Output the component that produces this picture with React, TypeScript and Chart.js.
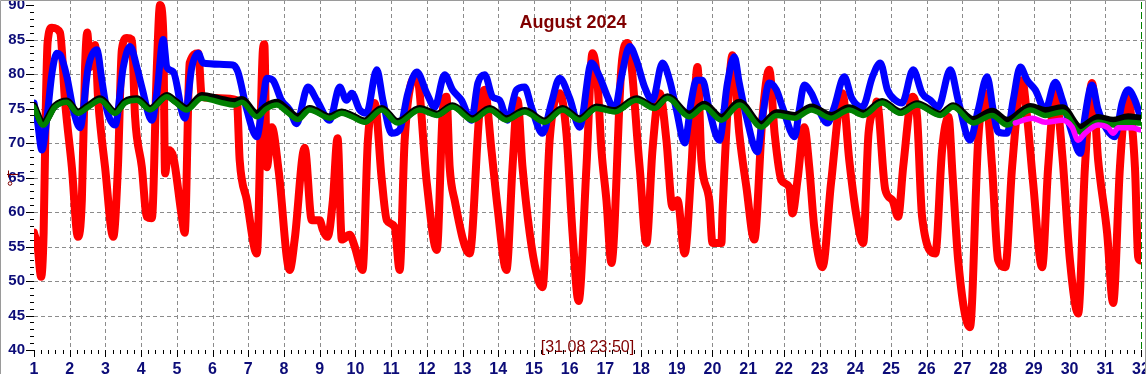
import React, { useEffect, useRef } from 'react';
import { Chart, registerables } from 'chart.js';

Chart.register(...registerables);

// ---------- data (day of month, value) ----------
const redSeries: [number, number][] = [
  [1.0, 57], [1.1, 55], [1.2, 50.6], [1.27, 57], [1.33, 75], [1.38, 84.5], [1.5, 86.7], [1.73, 86],
  [1.87, 76], [2.06, 66.5], [2.23, 56.4], [2.34, 61.7], [2.43, 81], [2.49, 86], [2.57, 81], [2.71, 84.2],
  [2.8, 76], [2.99, 66.5], [3.22, 56.4], [3.35, 66.5], [3.46, 83.5], [3.6, 85.2], [3.74, 85], [3.83, 73.8],
  [4.02, 66.5], [4.16, 59.3], [4.3, 59.1], [4.44, 81], [4.53, 90], [4.62, 86], [4.67, 65.6], [4.76, 69],
  [4.9, 68], [5.14, 59.3], [5.22, 57], [5.36, 81.6], [5.6, 83], [5.7, 76.7], [6.2, 76.5], [6.68, 76.2],
  [6.76, 67.5], [6.96, 61.7], [7.24, 54], [7.41, 83.5], [7.45, 84.3], [7.52, 66.5], [7.66, 72.3], [7.85, 66],
  [8.16, 51.6], [8.3, 56], [8.58, 69.3], [8.78, 58.8], [9.0, 58.8], [9.09, 57.4], [9.22, 56.4], [9.37, 61.7],
  [9.5, 70.7], [9.62, 56], [9.84, 56.7], [9.98, 55], [10.2, 51.6], [10.35, 70.4], [10.54, 75.8], [10.74, 64.6],
  [10.88, 58.8], [11.1, 57.8], [11.24, 51.6], [11.38, 70.4], [11.72, 79.6], [12.0, 64.2], [12.28, 54.5], [12.45, 74.8],
  [12.55, 76.7], [12.64, 66.5], [12.78, 61.7], [13.2, 54], [13.48, 74.8], [13.62, 77.7], [13.81, 69], [13.98, 60.7],
  [14.23, 51.6], [14.4, 66.5], [14.54, 76.2], [14.68, 66.5], [14.88, 57], [15.07, 51.2], [15.24, 49.1], [15.44, 70.4],
  [15.72, 77.2], [15.91, 71.4], [16.08, 57], [16.25, 47.1], [16.47, 66.5], [16.64, 83], [16.78, 78.7], [16.89, 69],
  [17.03, 61.7], [17.17, 52.6], [17.45, 81], [17.62, 84.5], [17.96, 66.5], [18.15, 55.5], [18.32, 69], [18.52, 77.2],
  [18.71, 70.4], [18.88, 60.7], [19.02, 61.7], [19.22, 54], [19.41, 66.5], [19.58, 81], [19.69, 67.5], [19.91, 61.7],
  [20.0, 55.5], [20.25, 55.5], [20.28, 59.8], [20.47, 78.7], [20.56, 82.7], [20.75, 71.4], [20.95, 63.6], [21.17, 56],
  [21.4, 73.8], [21.59, 80.6], [21.74, 71.4], [21.93, 64.6], [22.15, 63.6], [22.24, 59.8], [22.38, 64.6], [22.57, 72.3],
  [22.71, 66.5], [22.85, 57.8], [23.08, 52], [23.32, 64.2], [23.64, 77.2], [23.83, 67.5], [24.03, 59.5], [24.22, 55.5],
  [24.37, 71.4], [24.56, 75.2], [24.6, 76], [24.84, 63.2], [25.04, 61.7], [25.2, 59.3], [25.34, 66.5], [25.6, 76.7],
  [25.73, 73.8], [25.87, 59.3], [26.24, 54], [26.43, 69], [26.61, 73.8], [26.72, 65.6], [26.88, 53], [27.21, 43.3],
  [27.44, 70.4], [27.64, 77.2], [27.83, 66.5], [28.0, 53], [28.2, 52], [28.39, 66.5], [28.67, 79.1], [28.81, 73.8],
  [28.98, 64.2], [29.23, 52], [29.4, 66.5], [29.6, 77.2], [29.8, 68], [30.01, 53], [30.24, 45.3], [30.43, 66.5],
  [30.63, 78.7], [30.8, 67.5], [31.05, 57], [31.22, 46.8], [31.41, 66.5], [31.6, 76.7], [31.83, 66.5], [31.92, 53.5],
  [31.97, 53],
];

const blueSeries: [number, number][] = [
  [1.0, 75.8], [1.1, 73], [1.22, 69], [1.36, 73.5], [1.5, 80], [1.64, 83], [1.73, 82.8], [1.92, 79.6],
  [2.1, 74.8], [2.29, 72.2], [2.52, 81], [2.76, 83.5], [2.9, 79.1], [3.04, 74.8], [3.27, 72.6], [3.5, 81],
  [3.69, 84], [3.88, 81], [4.02, 78.1], [4.3, 73.3], [4.44, 77.2], [4.62, 85], [4.72, 81], [4.9, 80.3],
  [5.22, 73.6], [5.42, 81], [5.6, 83], [5.73, 81.6], [6.57, 81.3], [6.71, 80.3], [6.96, 74.8], [7.24, 70.9],
  [7.41, 76.2], [7.52, 79.4], [7.69, 79.1], [7.93, 76.2], [8.16, 74.8], [8.35, 72.8], [8.67, 78.1], [8.92, 76.2],
  [9.28, 73.3], [9.56, 78.1], [9.75, 76.2], [9.9, 77.2], [10.12, 74.8], [10.31, 74.3], [10.6, 80.6], [10.77, 76.2],
  [11.02, 71.4], [11.24, 71.9], [11.47, 77.2], [11.72, 80.3], [12.0, 77.2], [12.22, 75.2], [12.5, 79.9], [12.72, 77.7],
  [12.97, 76.2], [13.25, 73.3], [13.43, 78.7], [13.62, 79.9], [13.84, 76.7], [14.04, 76.2], [14.26, 73.3], [14.51, 77.7],
  [14.74, 78.1], [14.93, 75.2], [15.24, 71.4], [15.49, 75.8], [15.72, 79.4], [16.0, 76.5], [16.28, 72.3], [16.61, 81.6],
  [16.84, 79.6], [17.06, 76.7], [17.26, 74.8], [17.45, 79.6], [17.68, 84], [17.87, 82], [18.1, 78.1], [18.32, 76.2],
  [18.6, 81.6], [18.8, 79.1], [18.99, 74.8], [19.22, 70], [19.41, 76.2], [19.55, 79.1], [19.72, 79.1], [19.91, 74.8],
  [20.19, 70.4], [20.42, 78.7], [20.61, 82.5], [20.75, 78.7], [20.95, 73.8], [21.26, 68.7], [21.4, 73.8], [21.59, 78.7],
  [21.79, 77.7], [21.96, 75.2], [22.3, 70.9], [22.43, 74.8], [22.57, 78.4], [22.77, 77.2], [22.94, 75.2], [23.22, 72.9],
  [23.41, 75.2], [23.69, 79.6], [23.9, 76.5], [24.2, 75.2], [24.48, 79.6], [24.7, 81.6], [24.9, 77.7], [25.12, 76.2],
  [25.31, 75.8], [25.62, 80.6], [25.87, 77.2], [26.1, 76.2], [26.32, 75.2], [26.66, 80.6], [26.88, 76.2], [27.21, 70.4],
  [27.44, 74.8], [27.69, 79.6], [27.86, 74.8], [28.0, 71.6], [28.25, 71.4], [28.42, 76.2], [28.62, 81], [28.81, 79.1],
  [29.04, 77.7], [29.32, 74.8], [29.6, 78.8], [29.8, 76.2], [30.07, 71.4], [30.3, 68.5], [30.43, 73.8], [30.63, 78.4],
  [30.8, 74.8], [31.05, 71.9], [31.27, 70.9], [31.47, 75.8], [31.64, 77.7], [31.83, 76.2], [31.97, 74],
];

const blackSeries: [number, number][] = [
  [1.0, 75.4], [1.25, 72.9], [1.59, 75.4], [1.92, 76.1], [2.23, 74.5], [2.52, 75.4], [2.85, 76.4], [3.27, 74.5],
  [3.55, 76.0], [3.88, 76.4], [4.25, 75.0], [4.72, 76.9], [4.95, 76.1], [5.28, 75.0], [5.7, 76.9], [6.2, 76.4],
  [6.62, 76.0], [6.82, 76.3], [7.24, 74.3], [7.52, 75.4], [7.8, 75.9], [8.08, 74.9], [8.39, 73.8], [8.72, 75.0],
  [9.28, 73.8], [9.62, 74.5], [9.9, 74.0], [10.26, 73.2], [10.74, 75.0], [11.18, 73.1], [11.8, 75.0], [12.28, 74.2],
  [12.72, 75.4], [13.28, 73.5], [13.76, 75.0], [14.23, 73.5], [14.74, 74.7], [15.3, 73.2], [15.8, 75.0], [16.28, 73.5],
  [16.75, 75.2], [17.26, 74.7], [17.87, 76.4], [18.38, 75.2], [18.74, 76.7], [19.35, 74.2], [19.77, 75.6], [20.25, 73.7],
  [20.75, 75.9], [21.37, 72.7], [21.79, 74.4], [22.3, 74.0], [22.77, 75.2], [23.32, 74.0], [23.83, 75.1], [24.22, 74.3],
  [24.75, 76.0], [25.26, 74.5], [25.73, 75.7], [26.38, 74.2], [26.74, 75.4], [27.3, 73.4], [27.83, 74.6], [28.25, 73.3],
  [28.9, 75.3], [29.32, 74.7], [29.8, 75.1], [30.3, 72.3], [30.8, 73.7], [31.22, 73.3], [31.64, 73.8], [31.97, 73.6],
];

const greenSeries: [number, number][] = [
  [1.0, 75.2], [1.25, 72.6], [1.59, 75.2], [1.92, 75.9], [2.23, 74.3], [2.52, 75.2], [2.85, 76.2], [3.27, 74.3],
  [3.55, 75.8], [3.88, 76.2], [4.25, 74.8], [4.72, 76.7], [4.95, 75.9], [5.28, 74.8], [5.7, 76.5], [6.2, 75.9],
  [6.62, 75.5], [6.82, 75.9], [7.24, 73.8], [7.52, 75.0], [7.8, 75.5], [8.08, 74.5], [8.39, 73.4], [8.72, 74.8],
  [9.28, 73.6], [9.62, 74.3], [9.9, 73.8], [10.26, 73.0], [10.74, 74.8], [11.18, 72.9], [11.8, 74.8], [12.28, 74.0],
  [12.72, 75.2], [13.28, 73.3], [13.76, 74.8], [14.23, 73.3], [14.74, 74.5], [15.3, 73.0], [15.8, 74.8], [16.28, 73.3],
  [16.75, 75.0], [17.26, 74.5], [17.87, 76.2], [18.38, 75.0], [18.74, 76.5], [19.35, 73.8], [19.77, 75.2], [20.25, 73.3],
  [20.75, 75.5], [21.37, 72.3], [21.79, 74.0], [22.3, 73.6], [22.77, 74.8], [23.32, 73.6], [23.83, 74.8], [24.22, 74.0],
  [24.75, 75.8], [25.26, 74.3], [25.73, 75.5], [26.38, 74.0], [26.74, 75.2], [27.3, 72.9], [27.83, 74.0], [28.25, 72.6],
  [28.9, 74.8], [29.32, 74.0], [29.8, 74.5], [30.3, 71.6], [30.8, 73.0], [31.22, 72.6], [31.64, 73.0], [31.97, 72.9],
];

const magentaSeries: [number, number][] = [
  [28.48, 72.9], [28.95, 73.6], [29.32, 73.0], [29.8, 73.3], [30.07, 72.3], [30.24, 70.4], [30.43, 71.4],
  [30.8, 72.6], [31.08, 72.2], [31.22, 71.4], [31.36, 72.2], [31.75, 72.2], [31.97, 71.9],
];

const xTickValues = [1, 2, 3, 4, 5, 6, 7, 8, 9, 10, 11, 12, 13, 14, 15, 16, 17, 18, 19, 20, 21, 22, 23, 24, 25, 26, 27, 28, 29, 30, 31, 32];
const yTickValues = [40, 45, 50, 55, 60, 65, 70, 75, 80, 85, 90];
const yGridValues = [45, 50, 55, 60, 65, 70, 75, 80, 85];
const xGridValues = [2, 3, 4, 5, 6, 7, 8, 9, 10, 11, 12, 13, 14, 15, 16, 17, 18, 19, 20, 21, 22, 23, 24, 25, 26, 27, 28, 29, 30, 31];
const nowDay = 32;
const titleText = 'August 2024';
const stampText = '[31.08 23:50]';
const markerValue = 65.5;

const FONT = "'Liberation Sans', Arial, Helvetica, sans-serif";
const NAVY = '#0c0c78';
const DARK_RED = '#800000';

const toXY = (s: [number, number][]) => s.map(([x, y]) => ({ x, y }));

const decorPlugin = {
  id: 'decor',
  beforeDatasetsDraw(chart: any) {
    const { ctx, chartArea: a, scales } = chart;
    const x = scales.x;
    const y = scales.y;
    ctx.save();
    ctx.strokeStyle = '#8c8c8c';
    ctx.lineWidth = 1;
    ctx.setLineDash([4, 3]);
    for (const v of yGridValues) {
      const py = Math.round(y.getPixelForValue(v)) + 0.5;
      ctx.beginPath();
      ctx.moveTo(a.left, py);
      ctx.lineTo(a.right + 3, py);
      ctx.stroke();
    }
    for (const d of xGridValues) {
      const px = Math.round(x.getPixelForValue(d)) + 0.5;
      ctx.beginPath();
      ctx.moveTo(px, 0);
      ctx.lineTo(px, a.bottom);
      ctx.stroke();
    }
    // current-time marker
    ctx.strokeStyle = '#008000';
    ctx.setLineDash([7, 3]);
    const nx = Math.round(x.getPixelForValue(nowDay)) + 0.5;
    ctx.beginPath();
    ctx.moveTo(nx, 2);
    ctx.lineTo(nx, a.bottom);
    ctx.stroke();
    ctx.restore();
  },
  afterDraw(chart: any) {
    const { ctx, chartArea: a, scales, width } = chart;
    const x = scales.x;
    const y = scales.y;
    ctx.save();
    // frame
    ctx.strokeStyle = '#9a9a9a';
    ctx.lineWidth = 1;
    ctx.setLineDash([]);
    ctx.beginPath();
    ctx.moveTo(0.5, chart.height);
    ctx.lineTo(0.5, 0.5);
    ctx.lineTo(width - 0.5, 0.5);
    ctx.lineTo(width - 0.5, chart.height);
    ctx.stroke();

    // y ticks
    ctx.strokeStyle = '#000000';
    for (let v = 40; v <= 90; v++) {
      const py = Math.round(y.getPixelForValue(v)) + 0.5;
      const major = v % 5 === 0;
      ctx.beginPath();
      ctx.moveTo(a.left - (major ? 8 : 4), py);
      ctx.lineTo(a.left, py);
      ctx.stroke();
    }
    // x ticks
    for (let d = 1; d <= 32; d += 0.2) {
      const dd = Math.round(d * 10) / 10;
      const px = Math.round(x.getPixelForValue(dd)) + 0.5;
      const major = Math.abs(dd - Math.round(dd)) < 1e-6;
      ctx.beginPath();
      ctx.moveTo(px, a.bottom);
      ctx.lineTo(px, a.bottom + (major ? 7 : 4));
      ctx.stroke();
    }

    // small marker near the left axis
    const my = Math.round(y.getPixelForValue(markerValue)) + 0.5;
    ctx.strokeStyle = DARK_RED;
    ctx.beginPath();
    ctx.moveTo(7, my);
    ctx.lineTo(18, my);
    ctx.moveTo(8.5, my - 4);
    ctx.lineTo(8.5, my + 3);
    ctx.stroke();
    ctx.beginPath();
    ctx.arc(10, my + 9, 1.8, 0, Math.PI * 2);
    ctx.stroke();

    // texts
    ctx.fillStyle = DARK_RED;
    ctx.textAlign = 'center';
    ctx.textBaseline = 'alphabetic';
    ctx.font = `bold 18px ${FONT}`;
    ctx.fillText(titleText, 573, 28);
    ctx.font = `16px ${FONT}`;
    ctx.fillText(stampText, (a.left + a.right) / 2, 352);
    ctx.restore();
  },
};

export default function App() {
  const canvasRef = useRef<HTMLCanvasElement | null>(null);

  useEffect(() => {
    document.body.style.margin = '0';
    const canvas = canvasRef.current;
    if (!canvas) return;
    const line = (label: string, data: [number, number][], color: string, width: number) => ({
      label,
      data: toXY(data),
      borderColor: color,
      backgroundColor: color,
      borderWidth: width,
      pointRadius: 0,
      pointHoverRadius: 0,
      cubicInterpolationMode: 'monotone' as const,
      fill: false,
      borderJoinStyle: 'round' as const,
      borderCapStyle: 'round' as const,
    });
    const chart = new Chart(canvas, {
      type: 'line',
      data: {
        datasets: [
          line('magenta', magentaSeries, '#ff00ff', 5.5),
          line('green', greenSeries, '#008000', 5.5),
          line('black', blackSeries, '#000000', 7),
          line('blue', blueSeries, '#0000ff', 7),
          line('red', redSeries, '#ff0000', 8),
        ],
      },
      plugins: [decorPlugin],
      options: {
        animation: false,
        responsive: false,
        devicePixelRatio: 1,
        parsing: false as any,
        normalized: true,
        layout: { padding: { top: 1, right: 5, bottom: 0, left: 0 } },
        plugins: {
          legend: { display: false },
          tooltip: { enabled: false },
          title: { display: false },
        },
        scales: {
          x: {
            type: 'linear',
            min: 1,
            max: 32,
            grid: { display: false, drawTicks: false },
            border: { display: false },
            ticks: {
              autoSkip: false,
              maxRotation: 0,
              minRotation: 0,
              padding: 10,
              color: NAVY,
              font: { family: FONT, size: 16, weight: 'bold' },
              callback: (v: any) => String(v),
            },
            afterBuildTicks: (scale: any) => {
              scale.ticks = xTickValues.map((v) => ({ value: v }));
            },
            afterFit: (scale: any) => {
              scale.height = 24;
              scale.paddingLeft = 0;
              scale.paddingRight = 0;
            },
          },
          y: {
            type: 'linear',
            min: 40,
            max: 90.58,
            grid: { display: false, drawTicks: false },
            border: { display: false },
            ticks: {
              padding: 9,
              color: NAVY,
              font: { family: FONT, size: 15, weight: 'bold' },
              callback: (v: any) => String(v),
            },
            afterBuildTicks: (scale: any) => {
              scale.ticks = yTickValues.map((v) => ({ value: v }));
            },
            afterFit: (scale: any) => {
              scale.width = 34;
              scale.paddingTop = 0;
              scale.paddingBottom = 0;
            },
          },
        },
      } as any,
    });
    return () => chart.destroy();
  }, []);

  return (
    <div style={{ width: 1146, height: 374, background: '#ffffff' }}>
      <canvas ref={canvasRef} width={1146} height={374} style={{ display: 'block', width: 1146, height: 374 }} />
    </div>
  );
}
